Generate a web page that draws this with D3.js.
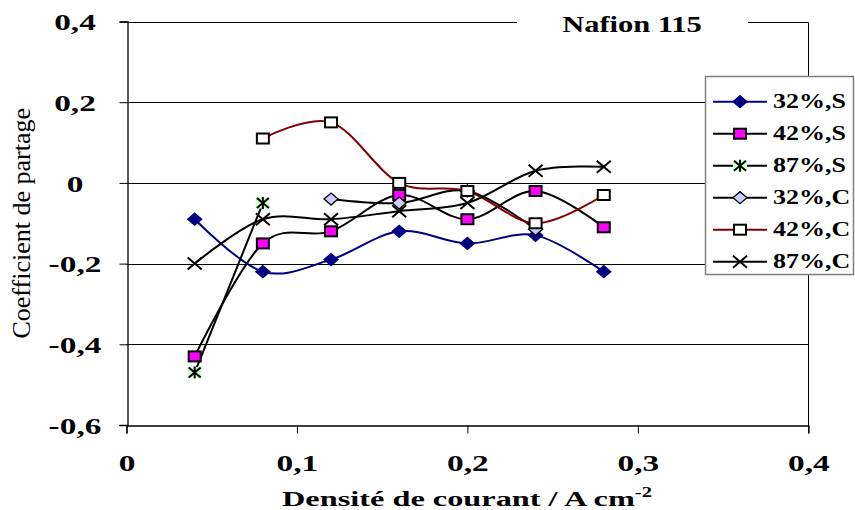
<!DOCTYPE html>
<html>
<head>
<meta charset="utf-8">
<script src="https://cdn.jsdelivr.net/npm/d3@7"></script>
<style>
  body { margin: 0; background: #fff; }
  svg { display: block; font-family: "Liberation Serif", "Times New Roman", serif; }
</style>
</head>
<body>
<div id="chart"></div>
<script>
const width = 855;
const height = 510;
const margin = { top: 21.5, right: 46.7, bottom: 85, left: 126.5 };

// data (current density in A/cm2, partition coefficient)
const currents = [0.04, 0.08, 0.12, 0.16, 0.2, 0.24, 0.28];
const s32 = [-0.09, -0.22, -0.19, -0.12, -0.15, -0.13, -0.22];
const s42 = [-0.43, -0.15, -0.12, -0.03, -0.09, -0.02, -0.11];
const s87 = [-0.47, -0.05, null, null, null, null, null];
const c32 = [null, null, -0.04, -0.05, -0.02, -0.115, null];
const c42 = [null, 0.11, 0.15, 0, -0.02, -0.10, -0.03];
const c87 = [-0.20, -0.09, -0.09, -0.07, -0.05, 0.03, 0.04];
const seriesNames = ["32%,S", "42%,S", "87%,S", "32%,C", "42%,C", "87%,C"];
const xTicks = [0, 0.1, 0.2, 0.3, 0.4];
const yTicks = [-0.6, -0.4, -0.2, 0, 0.2, 0.4];

const seriesValues = [s32, s42, s87, c32, c42, c87];
const styles = [
  { line: "#000080", marker: "diamond", fill: "#000080", stroke: "#000080" },
  { line: "#000", marker: "square", fill: "#ff00ff", stroke: "#000" },
  { line: "#000", marker: "star", fill: "#ccffcc", stroke: "#000" },
  { line: "#000", marker: "diamond", fill: "#ccccff", stroke: "#000" },
  { line: "#800000", marker: "square", fill: "#fff", stroke: "#000" },
  { line: "#000", marker: "x", fill: "none", stroke: "#000" }
];

const series = seriesNames.map((name, i) => ({
  name,
  style: styles[i],
  points: currents.map((c, j) => ({ x: c, y: seriesValues[i][j] })).filter(p => p.y !== null)
}));

// french decimal comma, plain hyphen for negatives
const fmt = d => d === 0 ? "0" : d3.format(".1f")(d).replace(".", ",").replace("\u2212", "-");

// horizontal stretch of glyphs about their anchor (the original is drawn wide)
function stretch(sel, sx) {
  sel.each(function() {
    const t = d3.select(this);
    const x = +t.attr("x") || 0, y = +t.attr("y") || 0;
    t.attr("transform", `translate(${x},${y}) scale(${sx},1) translate(${-x},${-y})`);
  });
}

const svg = d3.select("#chart").append("svg")
    .attr("width", width)
    .attr("height", height);

const x = d3.scaleLinear().domain([0, 0.4]).range([margin.left, width - margin.right]);
const y = d3.scaleLinear().domain([-0.6, 0.4]).range([height - margin.bottom, margin.top]);

// gridlines
svg.append("g")
  .selectAll("line")
  .data(yTicks.filter(d => d > -0.6 && d < 0.4))
  .enter().append("line")
    .attr("x1", x(0)).attr("x2", x(0.4))
    .attr("y1", d => Math.round(y(d)) + 0.5).attr("y2", d => Math.round(y(d)) + 0.5)
    .attr("stroke", "#000").attr("stroke-width", 1);

// plot frame top / right
svg.append("path")
  .attr("d", `M${x(0)},${Math.round(y(0.4)) + 0.5}H${Math.round(x(0.4)) + 0.5}V${y(-0.6)}`)
  .attr("fill", "none").attr("stroke", "#000");

// axes
const yAxis = svg.append("g")
  .attr("transform", `translate(${Math.round(x(0)) + 0.5},0)`)
  .call(d3.axisLeft(y).tickValues(yTicks).tickSize(8).tickFormat(fmt));
const xAxis = svg.append("g")
  .attr("transform", `translate(0,${Math.round(y(-0.6)) + 0.5})`)
  .call(d3.axisBottom(x).tickValues(xTicks).tickSize(8).tickFormat(fmt));

[xAxis, yAxis].forEach(a => {
  a.select(".domain").attr("stroke", "#000").attr("stroke-width", 1.3);
  a.selectAll(".tick line").attr("stroke", "#000");
  a.selectAll("text")
    .attr("font-family", "Liberation Serif")
    .attr("font-weight", "bold")
    .attr("font-size", 23)
    .attr("fill", "#000");
});
yAxis.selectAll("text").attr("text-anchor", "middle").attr("x", -52.5).attr("dy", "0.36em");
xAxis.selectAll("text").attr("y", 29).attr("dy", "0.71em");
stretch(yAxis.selectAll("text"), 1.45);
stretch(xAxis.selectAll("text"), 1.45);

// lines
const line = d3.line()
  .x(d => x(d.x))
  .y(d => y(d.y))
  .curve(d3.curveCatmullRom.alpha(0));

svg.append("g")
  .selectAll("path")
  .data(series)
  .enter().append("path")
    .attr("d", d => line(d.points))
    .attr("fill", "none")
    .attr("stroke", d => d.style.line)
    .attr("stroke-width", 2);

// marker drawing
function drawMarker(g, type, fill, stroke) {
  if (type === "diamond") {
    g.append("path").attr("d", "M-7,0L0,-6L7,0L0,6Z")
      .attr("fill", fill).attr("stroke", stroke).attr("stroke-width", 1.3);
  } else if (type === "square") {
    g.append("rect").attr("x", -6).attr("y", -5).attr("width", 12).attr("height", 10)
      .attr("fill", fill).attr("stroke", stroke).attr("stroke-width", 2);
  } else if (type === "star") {
    g.append("rect").attr("x", -7).attr("y", -5.5).attr("width", 14).attr("height", 11)
      .attr("fill", fill);
    g.append("path").attr("d", "M-6,-5L6,5M-6,5L6,-5M0,-6V6")
      .attr("stroke", stroke).attr("stroke-width", 2);
  } else if (type === "x") {
    g.append("path").attr("d", "M-7,-6L7,6M-7,6L7,-6")
      .attr("stroke", stroke).attr("stroke-width", 2);
  }
}

series.forEach(s => {
  s.points.forEach(p => {
    const g = svg.append("g").attr("transform", `translate(${x(p.x)},${y(p.y)})`);
    drawMarker(g, s.style.marker, s.style.fill, s.style.stroke);
  });
});

// title with white background over the frame
svg.append("rect")
  .attr("x", 517).attr("y", 0).attr("width", 231).attr("height", 45)
  .attr("fill", "#fff");
const title = svg.append("text")
  .attr("x", 632).attr("y", 32)
  .attr("text-anchor", "middle")
  .attr("font-weight", "bold")
  .attr("font-size", 24)
  .text("Nafion 115");
stretch(title, 1.27);

// legend
const legend = svg.append("g");
legend.append("rect")
  .attr("x", 705.5).attr("y", 76.5).attr("width", 148).attr("height", 198)
  .attr("fill", "#fff").attr("stroke", "#7f7f7f").attr("stroke-width", 1.5);

series.forEach((s, i) => {
  const ly = 101.7 + i * 32;
  legend.append("line")
    .attr("x1", 713).attr("x2", 767).attr("y1", ly).attr("y2", ly)
    .attr("stroke", s.style.line).attr("stroke-width", 2);
  const g = legend.append("g").attr("transform", `translate(740,${ly})`);
  drawMarker(g, s.style.marker, s.style.fill, s.style.stroke);
  const t = legend.append("text")
    .attr("x", 773).attr("y", ly + 6.5)
    .attr("font-weight", "bold")
    .attr("font-size", 20)
    .text(s.name);
  stretch(t, 1.3);
});

// axis titles
const xTitle = svg.append("text")
  .attr("x", 467).attr("y", 506)
  .attr("text-anchor", "middle")
  .attr("font-weight", "bold")
  .attr("font-size", 22);
xTitle.append("tspan").text("Densité de courant / A cm");
xTitle.append("tspan").attr("dy", -9).attr("font-size", 14).text("-2");
stretch(xTitle, 1.47);

svg.append("text")
  .attr("transform", `translate(30,${(margin.top + height - margin.bottom) / 2}) rotate(-90)`)
  .attr("text-anchor", "middle")
  .attr("font-size", 26)
  .text("Coefficient de partage");
</script>
</body>
</html>
